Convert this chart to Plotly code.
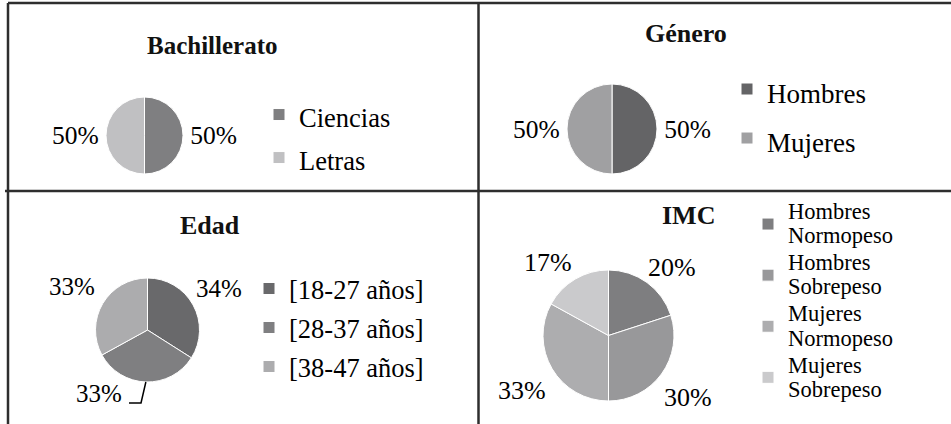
import math
import plotly.graph_objects as go

W, H = 951, 424
FONT = "Liberation Serif"

# ---------------- data ----------------
bach_labels = ["Ciencias", "Letras"]
bach_values = [50, 50]
bach_colors = ["#7f7f81", "#c0c0c2"]

gen_labels = ["Hombres", "Mujeres"]
gen_values = [50, 50]
gen_colors = ["#646466", "#a0a0a2"]

edad_labels = ["[18-27 años]", "[28-37 años]", "[38-47 años]"]
edad_values = [34, 33, 33]
edad_colors = ["#69696b", "#7f7f81", "#acacae"]

imc_labels = ["Hombres<br>Normopeso", "Hombres<br>Sobrepeso",
              "Mujeres<br>Normopeso", "Mujeres<br>Sobrepeso"]
imc_values = [20, 30, 33, 17]
imc_colors = ["#7e7e80", "#98989a", "#adadaf", "#cacacc"]

titles = ["Bachillerato", "Género", "Edad", "IMC"]


def px_x(x):
    return x / W


def px_y(y):
    return 1 - y / H


def dom(cx, cy, r):
    return dict(x=[px_x(cx - r), px_x(cx + r)], y=[px_y(cy + r), px_y(cy - r)])


def sized(labels, glyph):
    # legend entry text drawn at the glyph size; row spacing set by the legend font
    return ["<span style='font-size:%gpx'>%s</span>" % (glyph, l.replace("<br>", "</span><br><span style='font-size:%gpx'>" % glyph))
            for l in labels]


def pie(labels, values, colors, domain, legend, size, glyph, textpos="outside"):
    return go.Pie(
        labels=sized(labels, glyph), values=values, sort=False, direction="clockwise", rotation=0,
        marker=dict(colors=colors, line=dict(color="white", width=1)),
        textinfo="percent", textposition=textpos,
        outsidetextfont=dict(family=FONT, size=size, color="black"),
        domain=domain, legend=legend, showlegend=True, hoverinfo="label+percent",
    )


fig = go.Figure()
fig.add_trace(pie(bach_labels, bach_values, bach_colors, dom(144.5, 135.5, 38.5), "legend", 25.5, 26.5))
fig.add_trace(pie(gen_labels, gen_values, gen_colors, dom(612, 129, 45), "legend2", 25.5, 27))
fig.add_trace(pie(edad_labels, edad_values, edad_colors, dom(147.5, 330, 52), "legend3", 25, 26.5,
                  textpos="none"))
fig.add_trace(pie(imc_labels, imc_values, imc_colors, dom(608.5, 335.5, 65.5), "legend4", 26, 22.5,
                  textpos="none"))


def leg(x, y, size):
    return dict(x=px_x(x), y=px_y(y), xanchor="left", yanchor="middle",
                font=dict(family=FONT, size=size, color="black"),
                bgcolor="rgba(0,0,0,0)", borderwidth=0, itemwidth=30,
                itemclick=False, itemdoubleclick=False, tracegroupgap=0)


annotations = []
# title annotations
title_pos = [(212, 45), (686, 33), (210, 225), (688, 215)]
title_size = [25, 26, 26, 26]
for t, (x, y), s in zip(titles, title_pos, title_size):
    annotations.append(dict(text="<b>%s</b>" % t, x=px_x(x), y=px_y(y), xref="paper", yref="paper",
                            xanchor="center", yanchor="middle", showarrow=False,
                            font=dict(family=FONT, size=s, color="#111111")))

# percentage labels placed like the reference (best-fit positions)
edad_label_pos = [(219, 288), (99, 393), (72, 286)]
imc_label_pos = [(672, 267), (688, 397), (522, 390), (548, 262)]
for vals, poss, size in ((edad_values, edad_label_pos, 25), (imc_values, imc_label_pos, 26)):
    tot = sum(vals)
    for v, (x, y) in zip(vals, poss):
        annotations.append(dict(text="%d%%" % round(100 * v / tot), x=px_x(x), y=px_y(y),
                                xref="paper", yref="paper", xanchor="center", yanchor="middle",
                                showarrow=False, font=dict(family=FONT, size=size, color="black")))

# leader line for the Edad middle slice label
ang = math.radians((edad_values[0] + edad_values[1] / 2) / sum(edad_values) * 360)
sx, sy = 147.5 + 52 * math.sin(ang), 330 - 52 * math.cos(ang)
leader = "M %f %f L %f %f L %f %f" % (px_x(sx), px_y(sy), px_x(141), px_y(403), px_x(129), px_y(403))

line_col = "#2e2e2e"
shapes = [
    dict(type="line", xref="paper", yref="paper", x0=px_x(8), x1=1, y0=px_y(3), y1=px_y(3),
         line=dict(color=line_col, width=2.5)),
    dict(type="line", xref="paper", yref="paper", x0=px_x(8), x1=px_x(8), y0=px_y(3), y1=0,
         line=dict(color=line_col, width=2.5)),
    dict(type="line", xref="paper", yref="paper", x0=px_x(478.5), x1=px_x(478.5), y0=px_y(3), y1=0,
         line=dict(color=line_col, width=2.5)),
    dict(type="line", xref="paper", yref="paper", x0=px_x(5), x1=1, y0=px_y(191), y1=px_y(191),
         line=dict(color=line_col, width=2.5)),
    dict(type="path", xref="paper", yref="paper", path=leader, line=dict(color="black", width=1.5)),
]

fig.update_layout(
    width=W, height=H, autosize=False,
    margin=dict(l=0, r=0, t=0, b=0),
    paper_bgcolor="white", plot_bgcolor="white",
    font=dict(family=FONT, color="black"),
    legend=leg(259, 136.5, 30.8),
    legend2=leg(727, 114, 35.4),
    legend3=leg(249, 328, 27.7),
    legend4=leg(748, 301, 18.5),
    annotations=annotations,
    shapes=shapes,
)

fig.write_html("out.html")
